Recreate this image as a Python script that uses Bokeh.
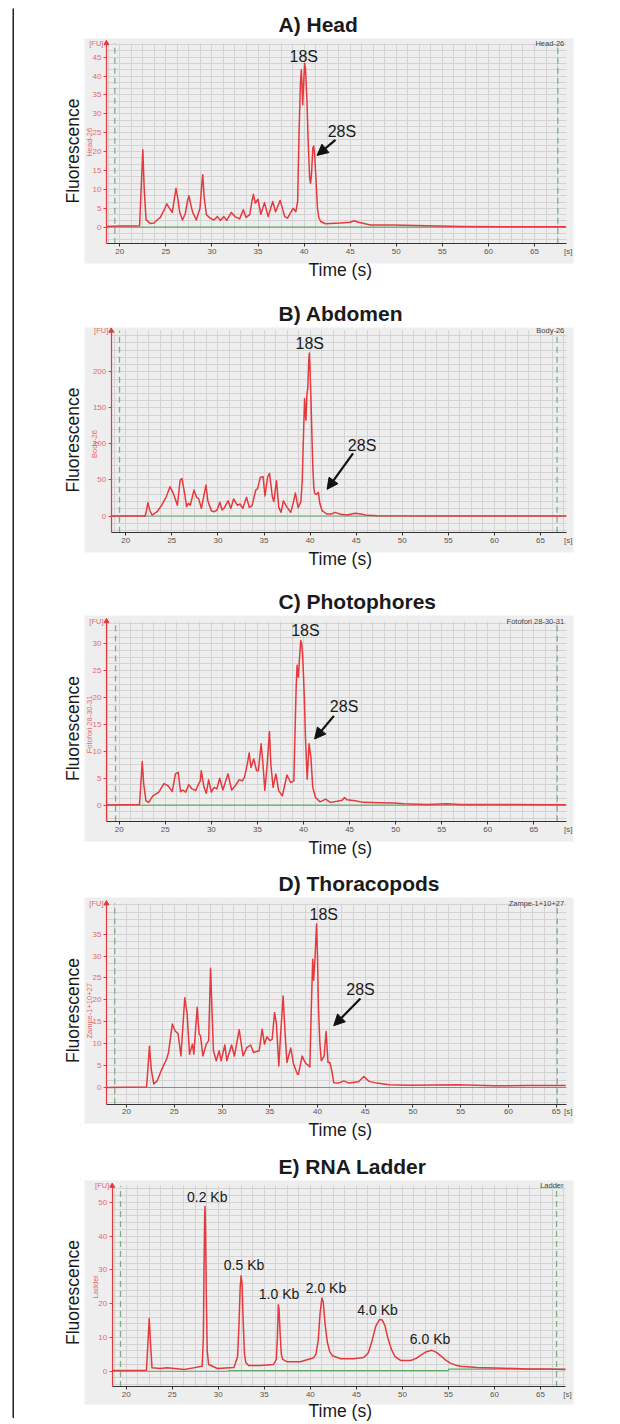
from bokeh.plotting import figure
from bokeh.layouts import column, row, Spacer
from bokeh.models import (LinearAxis, Grid, FixedTicker, Range1d, Title, Label,
                          Arrow, NormalHead)
from bokeh.embed import file_html
from bokeh.resources import INLINE
import math

# ---------------- data ----------------
time_ticks = [20, 25, 30, 35, 40, 45, 50, 55, 60, 65]

head_yticks = [0, 5, 10, 15, 20, 25, 30, 35, 40, 45]
abdomen_yticks = [0, 50, 100, 150, 200]
photophores_yticks = [0, 5, 10, 15, 20, 25, 30]
thoracopods_yticks = [0, 5, 10, 15, 20, 25, 30, 35]
ladder_yticks = [0, 10, 20, 30, 40, 50]

# (time s, fluorescence FU)
head_trace = [
    (18.55, 0.2), (20.0, 0.3), (21.0, 0.3), (22.15, 0.4), (22.35, 12.0), (22.5, 20.5),
    (22.65, 10.0), (22.85, 2.0), (23.3, 1.0), (23.7, 1.1), (24.05, 1.9), (24.4, 2.6),
    (24.8, 4.5), (25.1, 6.2), (25.4, 5.0), (25.7, 3.9), (25.95, 8.0), (26.1, 10.3),
    (26.3, 7.5), (26.5, 4.0), (26.8, 1.9), (27.1, 3.5), (27.35, 7.0), (27.5, 8.3),
    (27.7, 6.0), (27.9, 4.0), (28.3, 1.9), (28.7, 5.0), (28.9, 11.5), (29.0, 13.9),
    (29.15, 8.0), (29.4, 3.3), (29.8, 2.4), (30.2, 1.9), (30.6, 2.8), (30.9, 1.8),
    (31.3, 2.8), (31.6, 1.8), (32.1, 3.9), (32.5, 2.8), (33.0, 2.2), (33.4, 4.6),
    (33.7, 2.6), (34.1, 3.3), (34.35, 7.0), (34.5, 8.7), (34.7, 6.4), (35.0, 7.4),
    (35.3, 3.4), (35.7, 6.5), (36.1, 2.8), (36.6, 6.8), (36.9, 4.1), (37.4, 7.1),
    (37.9, 2.8), (38.2, 2.4), (38.8, 5.0), (39.1, 4.1), (39.3, 6.8), (39.45, 25.0),
    (39.6, 38.0), (39.7, 41.7), (39.8, 36.0), (39.85, 32.4), (39.95, 38.0), (40.05, 43.4),
    (40.15, 42.0), (40.3, 34.0), (40.45, 22.0), (40.6, 13.0), (40.7, 11.6), (40.8, 14.0),
    (40.95, 21.0), (41.05, 21.5), (41.15, 19.0), (41.3, 12.0), (41.45, 5.0), (41.6, 2.5),
    (41.8, 1.5), (42.3, 0.9), (43.9, 1.1), (45.0, 1.3), (45.4, 1.7), (45.9, 1.3),
    (47.2, 0.6), (49.7, 0.6), (53.3, 0.35), (57.0, 0.2), (62.0, 0.15), (68.4, 0.1),
]

abdomen_trace = [
    (18.4, 0.0), (22.1, 0.0), (22.25, 8.0), (22.4, 18.5), (22.6, 8.0), (22.85, 1.4),
    (23.4, 6.0), (23.9, 15.0), (24.4, 27.0), (24.8, 40.7), (25.2, 30.0), (25.6, 15.0),
    (25.9, 50.0), (26.1, 52.0), (26.4, 30.0), (26.6, 13.0), (26.8, 17.6), (27.0, 15.0),
    (27.4, 36.0), (27.7, 25.5), (27.9, 24.5), (28.2, 10.6), (28.7, 43.0), (28.9, 21.0),
    (29.3, 7.0), (29.6, 6.0), (29.9, 8.3), (30.2, 19.0), (30.45, 8.3), (30.7, 11.6),
    (31.1, 21.0), (31.4, 10.6), (31.7, 23.6), (32.1, 15.0), (32.4, 16.7), (32.7, 10.6),
    (33.1, 26.0), (33.4, 12.0), (33.7, 14.4), (34.1, 36.0), (34.3, 38.0), (34.6, 53.7),
    (34.9, 54.6), (35.1, 27.8), (35.4, 54.6), (35.6, 59.0), (35.9, 26.9), (36.06, 20.0),
    (36.35, 49.0), (36.6, 12.0), (36.85, 5.0), (37.1, 21.0), (37.5, 12.0), (37.9, 5.0),
    (38.2, 20.0), (38.4, 32.0), (38.7, 11.6), (39.0, 20.0), (39.15, 50.0), (39.3, 120.0),
    (39.4, 163.0), (39.5, 140.0), (39.55, 133.0), (39.65, 168.0), (39.75, 178.0),
    (39.85, 215.0), (39.92, 226.0), (40.0, 200.0), (40.1, 159.0), (40.2, 110.0),
    (40.3, 66.0), (40.4, 40.0), (40.5, 31.5), (40.7, 30.0), (40.9, 33.0), (41.05, 17.6),
    (41.3, 7.4), (41.8, 2.8), (42.3, 2.8), (42.75, 5.0), (43.3, 2.3), (44.0, 1.4),
    (44.9, 3.7), (45.5, 2.8), (46.2, 0.9), (47.3, 0.5), (55.0, 0.2), (67.8, 0.2),
]

photophores_trace = [
    (18.6, 0.0), (22.2, 0.1), (22.35, 4.0), (22.5, 8.1), (22.65, 4.0), (22.9, 0.8),
    (23.2, 0.5), (23.65, 1.7), (24.3, 2.4), (24.85, 4.0), (25.3, 3.6), (25.75, 2.5),
    (26.1, 5.8), (26.4, 6.1), (26.65, 2.5), (26.9, 2.8), (27.2, 2.4), (27.55, 3.8),
    (27.9, 3.0), (28.3, 2.7), (28.6, 3.9), (28.8, 4.5), (28.9, 6.4), (29.2, 3.3),
    (29.45, 2.2), (29.7, 4.7), (30.0, 2.4), (30.3, 3.3), (30.6, 3.0), (30.9, 5.0),
    (31.25, 2.8), (31.5, 4.2), (31.8, 5.8), (32.2, 2.8), (32.6, 3.6), (33.0, 4.7),
    (33.35, 4.5), (33.6, 5.2), (33.9, 7.6), (34.1, 9.7), (34.3, 7.0), (34.6, 8.6),
    (34.9, 6.4), (35.1, 6.4), (35.4, 11.4), (35.6, 7.6), (35.8, 2.7), (36.06, 7.6),
    (36.3, 13.7), (36.45, 7.6), (36.7, 3.3), (37.0, 5.8), (37.3, 2.7), (37.7, 1.7),
    (38.05, 4.4), (38.2, 5.6), (38.6, 4.2), (38.95, 4.5), (39.1, 15.0), (39.2, 21.9),
    (39.3, 26.0), (39.4, 24.0), (39.45, 23.8), (39.55, 27.0), (39.7, 30.6), (39.8, 30.0),
    (39.9, 27.8), (40.0, 24.0), (40.1, 19.4), (40.2, 13.0), (40.3, 8.9), (40.4, 4.8),
    (40.6, 11.4), (40.8, 8.9), (41.0, 3.3), (41.3, 1.4), (41.8, 0.6), (42.4, 1.1),
    (42.9, 0.5), (43.65, 0.7), (44.2, 0.9), (44.45, 1.4), (44.7, 1.0), (45.6, 0.8),
    (46.5, 0.5), (48.35, 0.43), (49.8, 0.37), (50.9, 0.25), (53.4, 0.12), (55.6, 0.25),
    (57.0, 0.12), (68.5, 0.06),
]

thoracopods_trace = [
    (17.9, 0.0), (22.1, 0.1), (22.25, 4.5), (22.4, 9.4), (22.6, 4.0), (22.85, 0.8),
    (23.2, 1.5), (23.7, 4.2), (24.2, 6.5), (24.4, 8.0), (24.8, 14.5), (25.1, 12.9),
    (25.4, 12.3), (25.7, 7.2), (26.1, 20.5), (26.35, 16.7), (26.6, 7.6), (26.9, 9.9),
    (27.05, 7.6), (27.4, 18.3), (27.6, 12.2), (27.75, 11.8), (28.0, 7.2), (28.35, 9.9),
    (28.6, 10.7), (28.8, 27.2), (29.1, 8.4), (29.4, 6.1), (29.7, 8.4), (29.9, 6.1),
    (30.3, 9.7), (30.5, 6.1), (31.0, 9.7), (31.3, 7.2), (31.8, 13.2), (32.2, 7.2),
    (32.6, 9.1), (33.0, 9.7), (33.3, 8.0), (33.9, 8.4), (34.2, 13.3), (34.45, 9.9),
    (34.7, 11.6), (35.0, 10.7), (35.25, 11.0), (35.5, 17.1), (35.7, 14.5), (35.95, 4.9),
    (36.1, 10.7), (36.4, 20.9), (36.6, 12.6), (36.8, 5.7), (37.2, 9.0), (37.5, 5.3),
    (37.9, 3.0), (38.0, 3.0), (38.4, 7.2), (38.7, 5.7), (39.2, 4.7), (39.35, 18.0),
    (39.5, 29.3), (39.6, 24.5), (39.75, 30.0), (39.9, 37.3), (40.0, 30.0), (40.1, 18.3),
    (40.25, 10.0), (40.4, 6.1), (40.7, 7.2), (40.9, 12.8), (41.1, 5.7), (41.3, 5.7),
    (41.5, 3.8), (41.7, 1.1), (42.2, 1.0), (42.75, 1.5), (43.3, 1.0), (44.3, 1.3),
    (44.85, 2.5), (45.4, 1.4), (46.2, 1.0), (47.5, 0.6), (49.7, 0.5), (54.6, 0.6),
    (58.5, 0.4), (61.95, 0.45), (66.0, 0.45),
]

ladder_trace = [
    (18.5, 0.2), (22.2, 0.3), (22.35, 8.0), (22.5, 15.6), (22.65, 8.0), (22.8, 1.0),
    (23.7, 0.8), (24.45, 1.0), (26.3, 0.5), (27.3, 1.0), (28.25, 1.5), (28.38, 10.0),
    (28.45, 30.0), (28.52, 46.0), (28.56, 48.8), (28.62, 42.0), (28.7, 22.0), (28.8, 6.0),
    (28.95, 2.0), (29.9, 0.8), (31.7, 1.1), (32.1, 4.4), (32.25, 14.0), (32.38, 25.0),
    (32.48, 28.3), (32.58, 26.0), (32.7, 15.0), (32.85, 5.0), (33.0, 2.5), (33.3, 1.7),
    (34.6, 1.7), (36.0, 2.0), (36.3, 3.5), (36.42, 10.0), (36.52, 19.7), (36.6, 18.5),
    (36.72, 11.0), (36.85, 5.0), (37.0, 3.5), (37.5, 2.8), (38.9, 2.8), (40.3, 3.9),
    (40.6, 5.0), (40.85, 9.0), (41.05, 17.0), (41.25, 21.7), (41.4, 20.5), (41.6, 14.0),
    (41.85, 8.5), (42.1, 5.8), (42.4, 4.6), (43.3, 3.7), (44.7, 3.7), (45.8, 4.1),
    (46.3, 5.5), (46.7, 9.0), (47.1, 13.3), (47.5, 15.3), (47.8, 15.2), (48.1, 13.5),
    (48.4, 10.0), (48.8, 6.5), (49.2, 4.3), (49.8, 3.2), (50.9, 3.2), (51.5, 3.8),
    (52.0, 4.8), (52.6, 5.8), (53.2, 6.2), (53.7, 5.6), (54.2, 4.5), (54.7, 3.3),
    (55.2, 2.4), (55.8, 1.8), (56.3, 1.5), (58.1, 1.1), (61.0, 0.9), (63.55, 0.7),
    (65.4, 0.7), (67.7, 0.5),
]
ladder_baseline = [(18.5, 0.0), (31.1, 0.0), (31.1, 0.2), (55.0, 0.2), (55.0, 0.6), (67.7, 0.6)]

# peak labels: (text, time, FU)
head_peaks = [("18S", 39.96, 45.2), ("28S", 44.1, 25.2)]
abdomen_peaks = [("18S", 39.96, 238.9), ("28S", 45.64, 97.7)]
photophores_peaks = [("18S", 40.2, 32.5), ("28S", 44.4, 18.4)]
thoracopods_peaks = [("18S", 40.66, 39.6), ("28S", 44.5, 22.3)]
ladder_peaks = [("0.2 Kb", 28.8, 51.5), ("0.5 Kb", 32.8, 31.4), ("1.0 Kb", 36.6, 23.0),
                ("2.0 Kb", 41.7, 24.75), ("4.0 Kb", 47.3, 18.0), ("6.0 Kb", 53.0, 9.6)]

# 28S arrows: (time0, FU0, time1, FU1)
head_arrow = (43.4, 23.1, 41.4, 19.0)
abdomen_arrow = (44.66, 87.0, 41.84, 37.0)
photophores_arrow = (43.3, 16.6, 41.2, 12.3)
thoracopods_arrow = (44.5, 20.3, 41.7, 14.1)

# ---------------- styling ----------------
FONT = "Liberation Sans"
RED = "#e23b3f"
RED_SOFT = "#e8686b"
TRACE = "#e6393e"
GRAY_BG = "#eeeeee"
GRID = "#d3d3d3"
GREEN = "#5fa86c"
GREEN_DASH = "#7fae8c"
BORDER = "#222222"

panels = [
    dict(title="A) Head", tag="Head-26", trace=head_trace, yticks=head_yticks, ygrid=5 / 3,
         xr=(16.17, 69.23), yr=(-9.61, 49.95), ax=18.55, ay=-4.39, xend=68.44, ytop=48.7,
         dashes=(19.46, 67.53), fh=225, mt=29, mb=30, peaks=head_peaks, arrow=head_arrow,
         peak_size="16px", baseline=None),
    dict(title="B) Abdomen", tag="Body-26", trace=abdomen_trace, yticks=abdomen_yticks, ygrid=10,
         xr=(15.52, 68.58), yr=(-50.6, 261.5), ax=18.42, ay=-23.2, xend=67.79, ytop=257.0,
         dashes=(19.32, 66.8), fh=225, mt=34, mb=31, peaks=abdomen_peaks, arrow=abdomen_arrow,
         peak_size="16px", baseline=None),
    dict(title="C) Photophores", tag="Fotofori 28-30-31", trace=photophores_trace,
         yticks=photophores_yticks, ygrid=1.25,
         xr=(16.23, 69.3), yr=(-6.78, 35.27), ax=18.62, ay=-3.06, xend=68.5, ytop=34.2,
         dashes=(19.6, 67.53), fh=226, mt=32, mb=26, peaks=photophores_peaks,
         arrow=photophores_arrow, peak_size="16px", baseline=None),
    dict(title="D) Thoracopods", tag="Zampe-1+10+27", trace=thoracopods_trace,
         yticks=thoracopods_yticks, ygrid=5 / 3,
         xr=(15.6, 66.81), yr=(-8.22, 43.37), ax=17.9, ay=-3.81, xend=66.04, ytop=42.0,
         dashes=(18.77, 65.1), fh=226, mt=26, mb=27, peaks=thoracopods_peaks,
         arrow=thoracopods_arrow, peak_size="16px", baseline=None),
    dict(title="E) RNA Ladder", tag="Ladder", trace=ladder_trace, yticks=ladder_yticks, ygrid=2,
         xr=(15.47, 68.58), yr=(-9.85, 56.5), ax=18.48, ay=-4.64, xend=67.71, ytop=54.9,
         dashes=(19.38, 66.74), fh=224, mt=28, mb=21, peaks=ladder_peaks, arrow=None,
         peak_size="14px", baseline=ladder_baseline),
]


def make_panel(c):
    ax, ay, xend, ytop = c["ax"], c["ay"], c["xend"], c["ytop"]
    p = figure(frame_width=489, frame_height=c["fh"],
               x_range=Range1d(*c["xr"]), y_range=Range1d(*c["yr"]),
               x_axis_type=None, y_axis_type=None,
               output_backend="svg", toolbar_location=None,
               min_border_left=70, min_border_right=37,
               min_border_top=c["mt"], min_border_bottom=c["mb"],
               background_fill_color=GRAY_BG, border_fill_color="white",
               outline_line_color=None, title=c["title"])
    p.title.align = "left"
    p.title.offset = 194
    p.title.standoff = 5
    p.title.text_font = FONT
    p.title.text_font_size = "21px"
    p.title.text_font_style = "bold"
    p.title.text_color = "#1a1a1a"

    # grids (minor spacing), limited to the plot area
    step_x = 1.25
    xg_ticks = [20 + step_x * k for k in range(-1, 40) if ax <= 20 + step_x * k <= xend]
    s = c["ygrid"]
    yg_ticks = [s * k for k in range(math.ceil(ay / s), math.floor(ytop / s) + 1)]
    p.add_layout(Grid(dimension=0, ticker=FixedTicker(ticks=xg_ticks), bounds=(ax, xend),
                      cross_bounds=(ay, ytop), grid_line_color=GRID, grid_line_width=1))
    p.add_layout(Grid(dimension=1, ticker=FixedTicker(ticks=yg_ticks), bounds=(ay, ytop),
                      cross_bounds=(ax, xend), grid_line_color=GRID, grid_line_width=1))

    xa = LinearAxis(fixed_location=ay, bounds=(ax, xend), ticker=FixedTicker(ticks=time_ticks),
                    axis_line_color="#333333", axis_line_width=1.2,
                    major_tick_line_color="#333333", major_tick_in=0, major_tick_out=3,
                    minor_tick_line_color=None, major_label_text_font=FONT,
                    major_label_text_font_size="8px", major_label_text_color="#555555",
                    major_label_standoff=2)
    p.add_layout(xa, "below")
    ya = LinearAxis(fixed_location=ax, bounds=(ay, ytop), ticker=FixedTicker(ticks=c["yticks"]),
                    axis_line_color=RED, axis_line_width=1.2,
                    major_tick_line_color=RED, major_tick_in=0, major_tick_out=3,
                    minor_tick_line_color=None, major_label_text_font=FONT,
                    major_label_text_font_size="8px", major_label_text_color=RED_SOFT,
                    major_label_standoff=2)
    p.add_layout(ya, "left")

    p.add_layout(Title(text="Fluorescence", align="center", text_font=FONT,
                       text_font_size="17.5px", text_font_style="normal",
                       text_color="#1a1a1a", standoff=3), "left")
    p.add_layout(Title(text="Time (s)", align="left", offset=224, text_font=FONT,
                       text_font_size="17.5px", text_font_style="normal",
                       vertical_align="top", text_color="#1a1a1a", standoff=-8), "below")

    # marker lines and baseline
    d0, d1 = c["dashes"]
    p.segment(x0=[d0, d1], y0=[ay, ay], x1=[d0, d1], y1=[ytop, ytop],
              line_color=GREEN_DASH, line_width=1.3, line_dash="6 4")
    if c["baseline"] is None:
        p.line([ax, xend], [0, 0], line_color=GREEN, line_width=1.2)
    else:
        p.line([a for a, b in c["baseline"]], [b for a, b in c["baseline"]],
               line_color=GREEN, line_width=1.2)

    # electropherogram trace
    p.line([a for a, b in c["trace"]], [b for a, b in c["trace"]],
           line_color=TRACE, line_width=1.5, line_join="round")

    # axis arrow tip and small labels
    p.scatter([ax], [ytop], marker="triangle", size=5, fill_color=RED, line_color=RED)
    p.add_layout(Label(x=ax, y=ytop, text="[FU]", text_align="right", text_baseline="middle",
                       x_offset=-3, text_font=FONT, text_font_size="7.5px", text_color=RED_SOFT))
    p.add_layout(Label(x=xend, y=ytop, text=c["tag"], text_align="right", text_baseline="middle",
                       x_offset=-2, text_font=FONT, text_font_size="7.5px", text_color="#444444"))
    p.add_layout(Label(x=ax, y=c["yticks"][-1] / 2, text=c["tag"], angle=90, angle_units="deg",
                       text_align="center", text_baseline="middle", x_offset=-17,
                       text_font=FONT, text_font_size="7.5px", text_color=RED_SOFT))
    p.add_layout(Label(x=xend, y=ay, text="[s]", text_align="center", text_baseline="top",
                       x_offset=2, y_offset=-3, text_font=FONT, text_font_size="8px",
                       text_color="#555555"))

    for txt, px, py in c["peaks"]:
        p.add_layout(Label(x=px, y=py, text=txt, text_align="center", text_baseline="middle",
                           text_font=FONT, text_font_size=c["peak_size"], text_color="#1a1a1a"))
    if c["arrow"] is not None:
        x0, y0, x1, y1 = c["arrow"]
        p.add_layout(Arrow(end=NormalHead(size=11, fill_color="#111111", line_color="#111111"),
                           x_start=x0, y_start=y0, x_end=x1, y_end=y1,
                           line_color="#111111", line_width=2.2))
    return p


def border_piece(w, h, top=0):
    # a tiny plot whose (black) frame is the page border line
    b = figure(width=w, height=h, x_axis_type=None, y_axis_type=None, title=None,
               output_backend="svg", toolbar_location=None, min_border=0,
               min_border_top=top,
               background_fill_color=BORDER, border_fill_color="white",
               outline_line_color=None)
    return b


figs = [make_panel(c) for c in panels]
stack = column(*figs, spacing=0)
total_h = sum(c["fh"] + c["mt"] + c["mb"] for c in panels)
framed = column(
    border_piece(606, 8, top=6),
    row(border_piece(2, total_h), stack, spacing=0),
    spacing=0,
)
layout = row(Spacer(width=12, height=total_h + 8), framed, spacing=0)

with open("out.html", "w") as f:
    f.write(file_html(layout, INLINE))
